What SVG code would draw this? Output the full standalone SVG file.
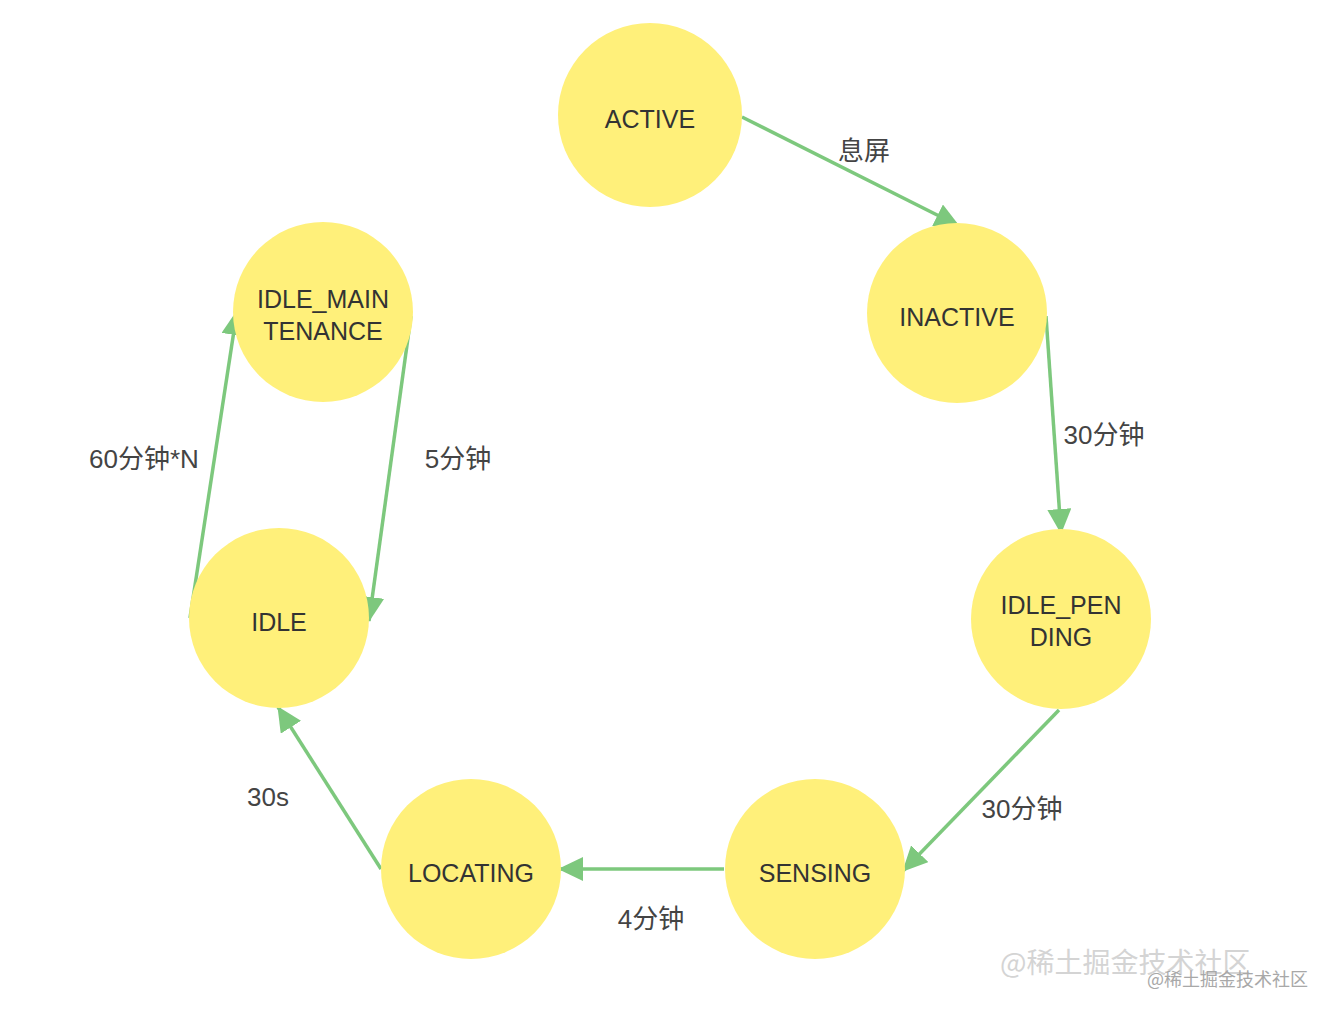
<svg xmlns="http://www.w3.org/2000/svg" width="1334" height="1016" viewBox="0 0 1334 1016">
<defs>
<marker id="ah" markerUnits="userSpaceOnUse" markerWidth="26" markerHeight="24" refX="24" refY="12" orient="auto">
<path d="M0,0 L25,12 L0,24 Z" fill="#7DC87D"/>
</marker>
<style>
.node circle{fill:#FFF07A;}
.node text{font-family:"Liberation Sans",Arial,sans-serif;font-size:25px;fill:#333;text-anchor:middle;}
.edge{stroke:#7DC87D;stroke-width:3.5;fill:none;marker-end:url(#ah);}
.lbl{font-family:"Liberation Sans","Noto Sans CJK SC",sans-serif;font-size:26px;fill:#444;text-anchor:middle;}
</style>
</defs>
<rect width="1334" height="1016" fill="#fff"/>
<g id="connectors">
<line class="edge" x1="742" y1="117" x2="959" y2="226"/>
<line class="edge" x1="1046" y1="316" x2="1061" y2="533"/>
<line class="edge" x1="1059" y1="710" x2="903" y2="871"/>
<line class="edge" x1="724" y1="869" x2="559" y2="869"/>
<line class="edge" x1="381" y1="869" x2="278" y2="707"/>
<line class="edge" x1="190" y1="618" x2="237" y2="311"/>
<line class="edge" x1="411" y1="316" x2="369" y2="621"/>
<text class="lbl" x="864" y="160">息屏</text>
<text class="lbl" x="1104" y="444">30分钟</text>
<text class="lbl" x="1022" y="818">30分钟</text>
<text class="lbl" x="651" y="928">4分钟</text>
<text class="lbl" x="268" y="806">30s</text>
<text class="lbl" x="144" y="468">60分钟*N</text>
<text class="lbl" x="458" y="468">5分钟</text>
</g>
<g id="active" class="node"><circle cx="650" cy="115" r="92"/><text x="650" y="128">ACTIVE</text></g>
<g id="inactive" class="node"><circle cx="957" cy="313" r="90"/><text x="957" y="326">INACTIVE</text></g>
<g id="idle_pending" class="node"><circle cx="1061" cy="619" r="90"/><text x="1061" y="614">IDLE_PEN</text><text x="1061" y="646">DING</text></g>
<g id="sensing" class="node"><circle cx="815" cy="869" r="90"/><text x="815" y="882">SENSING</text></g>
<g id="locating" class="node"><circle cx="471" cy="869" r="90"/><text x="471" y="882">LOCATING</text></g>
<g id="idle" class="node"><circle cx="279" cy="618" r="90"/><text x="279" y="631">IDLE</text></g>
<g id="idle_maintenance" class="node"><circle cx="323" cy="312" r="90"/><text x="323" y="308">IDLE_MAIN</text><text x="323" y="340">TENANCE</text></g>
<g id="watermark">
<text x="1000" y="973" font-family="'Noto Sans CJK SC',sans-serif" font-size="28" fill="#d4d4d4">@稀土掘金技术社区</text>
<text x="1147" y="986" font-family="'Noto Sans CJK SC',sans-serif" font-size="18" fill="#a8a8a8">@稀土掘金技术社区</text>
</g>
</svg>
